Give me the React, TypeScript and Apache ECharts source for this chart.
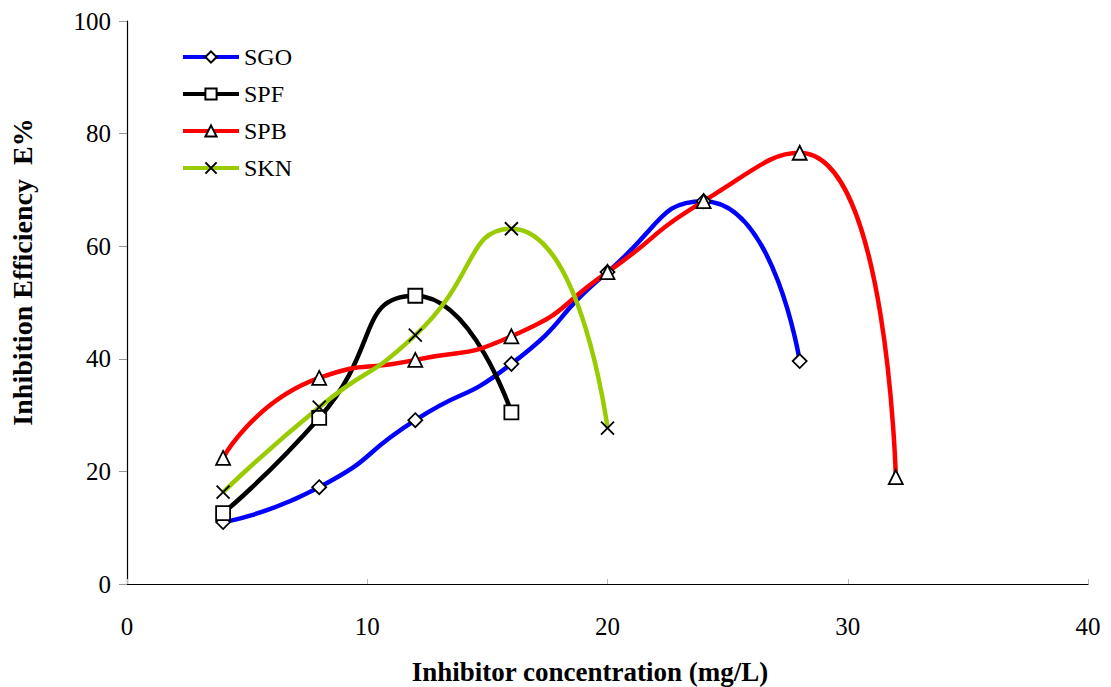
import React, { useEffect, useRef } from "react";
import * as echarts from "echarts";

const xValues = [4, 8, 12, 16, 20, 24, 28, 32];
const sgo = [11.0, 17.2, 29.1, 39.1, 55.4, 68.0, 39.6];
const spf = [12.6, 29.5, 51.2, 30.5];
const spb = [22.4, 36.6, 39.8, 44.0, 55.4, 68.0, 76.6, 19.0];
const skn = [16.3, 31.4, 44.2, 63.1, 27.7];
const seriesNames = ["SGO", "SPF", "SPB", "SKN"];
const xTicks = [0, 10, 20, 30, 40];
const xTitle = "Inhibitor concentration (mg/L)";
const yTitle = "Inhibition Efficiency  E%";

const pair = (vals: number[]) => vals.map((v, i) => [xValues[i], v]);

const FONT = "Liberation Serif";
const CROSS = "path://M0,0L10,10M10,0L0,10";

export default function App() {
  const ref = useRef<HTMLDivElement>(null);
  useEffect(() => {
    if (!ref.current) return;
    const chart = echarts.init(ref.current, null, { renderer: "svg" });
    const mk = (name: string, data: number[], color: string, symbol: string, size: number) => ({
      name,
      type: "line",
      data: pair(data),
      smooth: 0.6,
      symbol,
      symbolSize: size,
      lineStyle: { color, width: 4.5 },
      itemStyle: { color: "#ffffff", borderColor: "#000000", borderWidth: 1.8 },
      emphasis: { disabled: true },
    });
    chart.setOption({
      animation: false,
      backgroundColor: "#ffffff",
      grid: {
        left: 127,
        right: 23,
        top: 21,
        bottom: 103,
        containLabel: false,
        outerBoundsMode: "none",
      },
      legend: {
        orient: "vertical",
        left: 176,
        top: 40,
        itemWidth: 56,
        itemHeight: 14,
        itemGap: 13,
        data: seriesNames,
        lineStyle: { width: 4 },
        textStyle: { fontFamily: FONT, fontSize: 24, color: "#000" },
      },
      graphic: [
        {
          type: "text",
          x: 590,
          y: 672,
          style: {
            text: xTitle,
            fontFamily: FONT,
            fontSize: 27,
            fontWeight: "bold",
            fill: "#000",
            align: "center",
            verticalAlign: "middle",
          },
        },
        {
          type: "text",
          x: 22,
          y: 272,
          rotation: Math.PI / 2,
          style: {
            text: yTitle,
            fontFamily: FONT,
            fontSize: 28,
            fontWeight: "bold",
            fill: "#000",
            align: "center",
            verticalAlign: "middle",
          },
        },
      ],
      xAxis: {
        type: "value",
        min: xTicks[0],
        max: xTicks[xTicks.length - 1],
        interval: 10,
        axisLine: { lineStyle: { color: "#000", width: 1.2 } },
        axisTick: { inside: true, length: 5, lineStyle: { color: "#bbb" } },
        axisLabel: { fontFamily: FONT, fontSize: 25, color: "#000", margin: 30 },
        splitLine: { show: false },
      },
      yAxis: {
        type: "value",
        min: 0,
        max: 100,
        interval: 20,
        axisLine: { lineStyle: { color: "#000", width: 1.2 } },
        axisTick: { inside: false, length: 8, lineStyle: { color: "#999" } },
        axisLabel: { fontFamily: FONT, fontSize: 25, color: "#000", margin: 16 },
        splitLine: { show: false },
      },
      series: [
        mk("SGO", sgo, "#0000ff", "diamond", 14),
        mk("SPF", spf, "#000000", "rect", 14),
        mk("SPB", spb, "#ff0000", "triangle", 14),
        mk("SKN", skn, "#99cc00", CROSS, 13),
      ],
    });
    return () => chart.dispose();
  }, []);
  return (
    <div
      ref={ref}
      style={{ position: "fixed", left: 0, top: 0, width: 1111, height: 687 }}
    />
  );
}
